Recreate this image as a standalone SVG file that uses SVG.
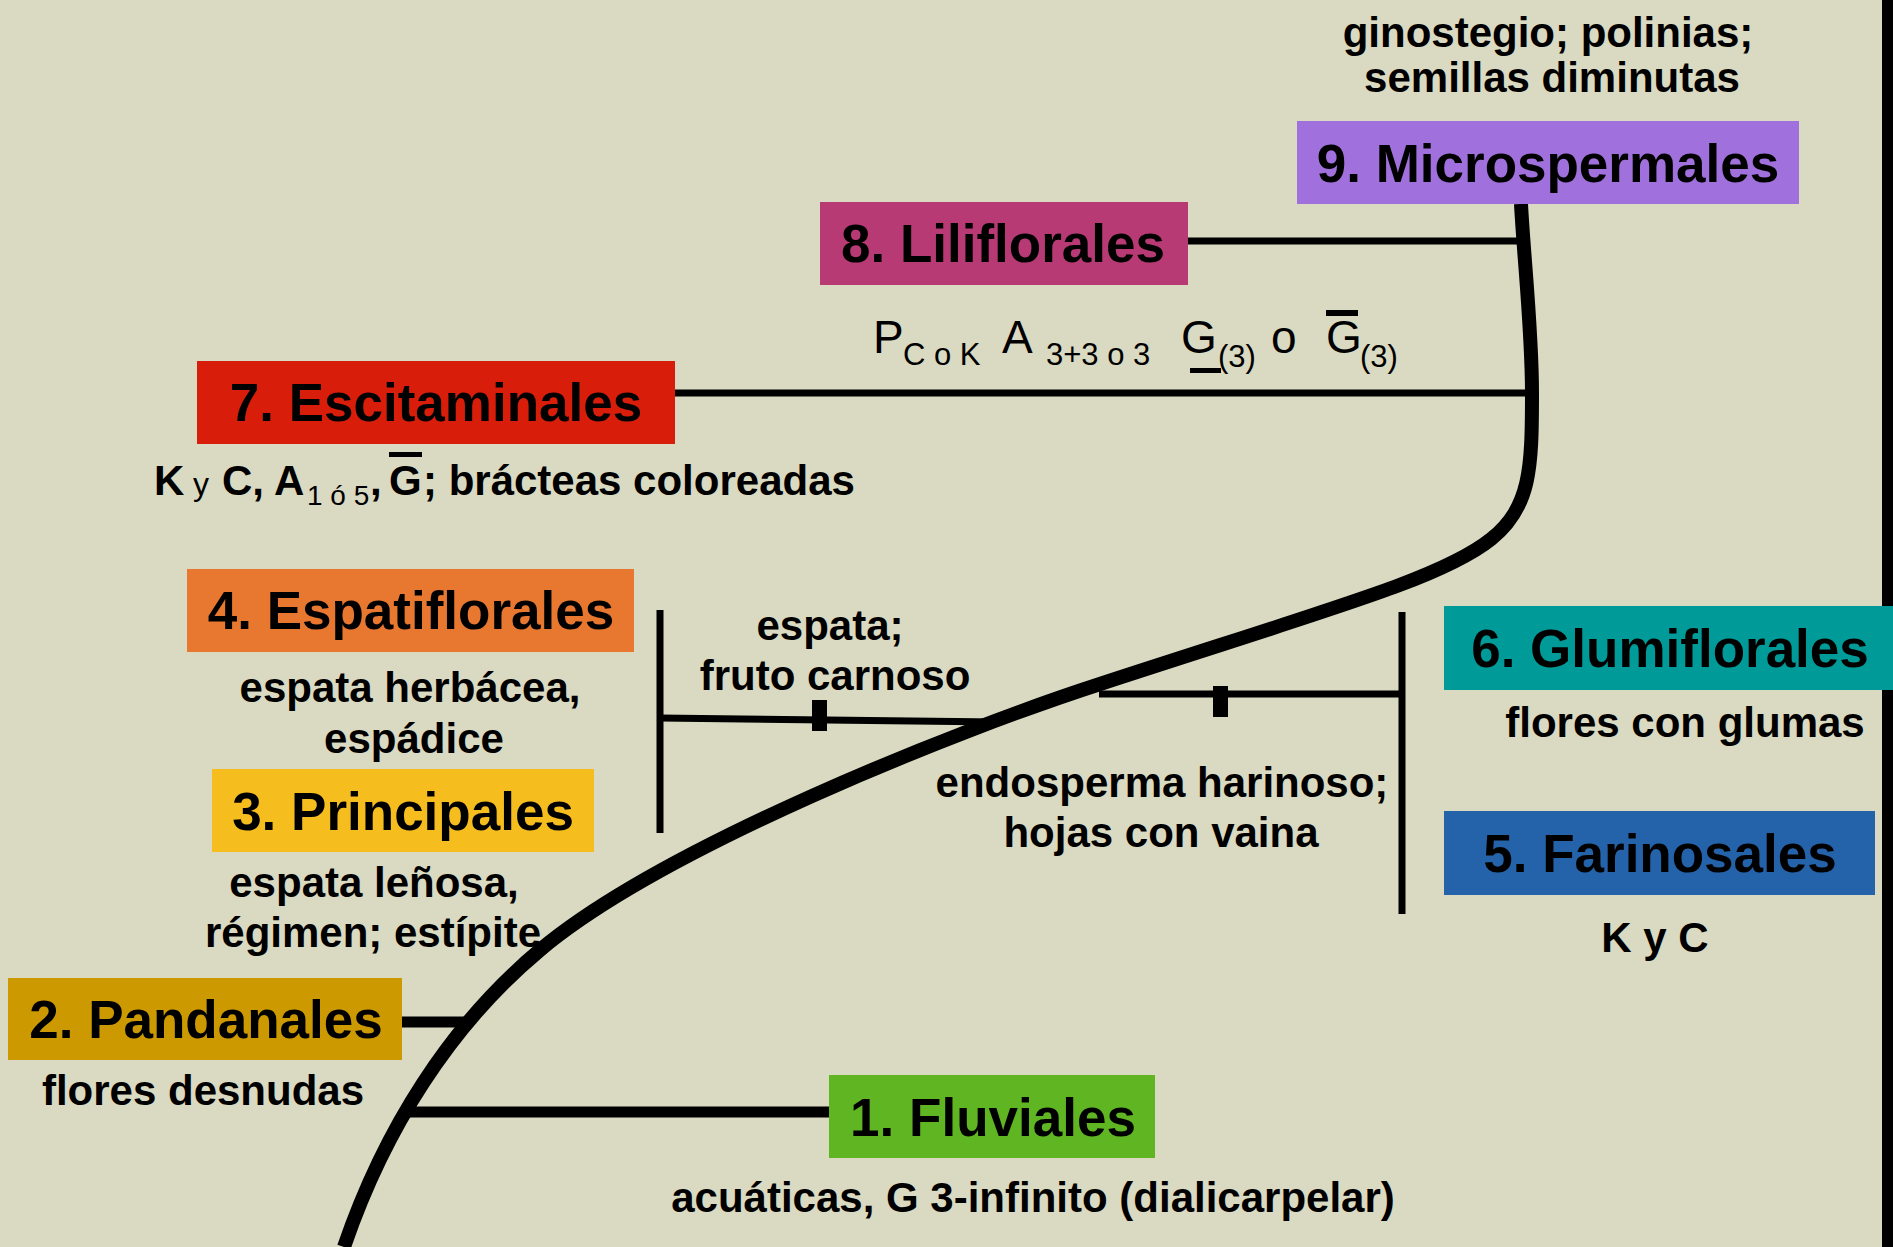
<svg xmlns="http://www.w3.org/2000/svg" width="1893" height="1247" viewBox="0 0 1893 1247">
<style>
.box{stroke:none}
.lbl{font-family:"Liberation Sans",Arial,sans-serif;font-weight:bold;font-size:53px;fill:#000;text-anchor:middle}
.desc{font-family:"Liberation Sans",Arial,sans-serif;font-weight:bold;font-size:42px;fill:#000;text-anchor:middle}
.frm{font-family:"Liberation Sans",Arial,sans-serif;font-weight:normal;fill:#000}
.thin{stroke:#000;stroke-width:7;fill:none}
.mid{stroke:#000;stroke-width:11;fill:none}
.trunk{stroke:#000;stroke-width:14;fill:none;stroke-linecap:butt}
</style>
<rect x="0" y="0" width="1893" height="1247" fill="#DAD9C1"/>
<rect x="1882" y="0" width="11" height="1247" fill="#000"/>

<g id="connectors">
<path class="trunk" d="M344 1247 C384 1130 450 1025 540 950 C663 847 958 730 1100 684 C1525 545 1532 563 1532 393 C1532 330 1524 260 1521 204"/>
<line class="thin" x1="1188" y1="241" x2="1522" y2="241"/>
<line class="thin" x1="675" y1="393" x2="1532" y2="393"/>
<line class="thin" x1="660" y1="610" x2="660" y2="833"/>
<line class="thin" x1="660" y1="718" x2="998" y2="722"/>
<rect x="812" y="700" width="15" height="31" fill="#000"/>
<line class="thin" x1="1402" y1="612" x2="1402" y2="914"/>
<line class="thin" x1="1099" y1="694" x2="1402" y2="694"/>
<rect x="1213" y="686" width="15" height="31" fill="#000"/>
<line class="mid" x1="402" y1="1022" x2="467" y2="1022"/>
<line class="mid" x1="410" y1="1112" x2="829" y2="1112"/>
</g>

<g id="node9">
<text class="desc" x="1548" y="47">ginostegio; polinias;</text>
<text class="desc" x="1552" y="92">semillas diminutas</text>
<rect class="box" x="1297" y="121" width="502" height="83" fill="#A070DC"/>
<text class="lbl" x="1548" y="182">9. Microspermales</text>
</g>

<g id="node8">
<rect class="box" x="820" y="202" width="368" height="83" fill="#B83A74"/>
<text class="lbl" x="1003" y="262">8. Liliflorales</text>
<text class="frm" y="353"><tspan x="873" font-size="46">P</tspan><tspan x="903" dy="12" font-size="31">C o K</tspan><tspan x="1002" dy="-12" font-size="46">A</tspan><tspan x="1046" dy="12" font-size="31">3+3 o 3</tspan><tspan x="1181" dy="-12" font-size="46">G</tspan><tspan x="1218" dy="14" font-size="31">(3)</tspan><tspan x="1271" dy="-14" font-size="46">o</tspan><tspan x="1326" font-size="46">G</tspan><tspan x="1360" dy="14" font-size="31">(3)</tspan></text>
<rect x="1190" y="368" width="31" height="5" fill="#000"/>
<rect x="1326" y="310" width="32" height="6" fill="#000"/>
</g>

<g id="node7">
<rect class="box" x="197" y="361" width="478" height="83" fill="#D81E0A"/>
<text class="lbl" x="436" y="421">7. Escitaminales</text>
<text class="desc" y="495" style="text-anchor:start"><tspan x="154">K</tspan><tspan x="193" font-weight="normal" font-size="32">y</tspan><tspan x="222">C, A</tspan><tspan x="307" dy="10" font-weight="normal" font-size="28">1 ó 5</tspan><tspan x="370" dy="-10">,</tspan><tspan x="389">G</tspan><tspan x="423">; brácteas coloreadas</tspan></text>
<rect x="389" y="452" width="33" height="5" fill="#000"/>
</g>

<g id="node4">
<rect class="box" x="187" y="569" width="447" height="83" fill="#E8772F"/>
<text class="lbl" x="411" y="629">4. Espatiflorales</text>
<text class="desc" x="410" y="702">espata herbácea,</text>
<text class="desc" x="414" y="753">espádice</text>
</g>

<g id="branch45">
<text class="desc" x="830" y="640">espata;</text>
<text class="desc" x="835" y="690">fruto carnoso</text>
</g>

<g id="branch56">
<text class="desc" x="1162" y="797">endosperma harinoso;</text>
<text class="desc" x="1161" y="847">hojas con vaina</text>
</g>

<g id="node3">
<rect class="box" x="212" y="769" width="382" height="83" fill="#F6BD1E"/>
<text class="lbl" x="403" y="830">3. Principales</text>
<text class="desc" x="374" y="897">espata leñosa,</text>
<text class="desc" x="373" y="947">régimen; estípite</text>
</g>

<g id="node2">
<rect class="box" x="8" y="978" width="394" height="82" fill="#CC9900"/>
<text class="lbl" x="206" y="1038">2. Pandanales</text>
<text class="desc" x="203" y="1105">flores desnudas</text>
</g>

<g id="node1">
<rect class="box" x="829" y="1075" width="326" height="83" fill="#60B522"/>
<text class="lbl" x="993" y="1136">1. Fluviales</text>
<text class="desc" x="1033" y="1212">acuáticas, G 3-infinito (dialicarpelar)</text>
</g>

<g id="node6">
<rect class="box" x="1444" y="606" width="449" height="84" fill="#009A98"/>
<text class="lbl" x="1670" y="667">6. Glumiflorales</text>
<text class="desc" x="1685" y="737">flores con glumas</text>
</g>

<g id="node5">
<rect class="box" x="1444" y="811" width="431" height="84" fill="#2463AA"/>
<text class="lbl" x="1660" y="872">5. Farinosales</text>
<text class="desc" x="1655" y="952">K y C</text>
</g>
</svg>
